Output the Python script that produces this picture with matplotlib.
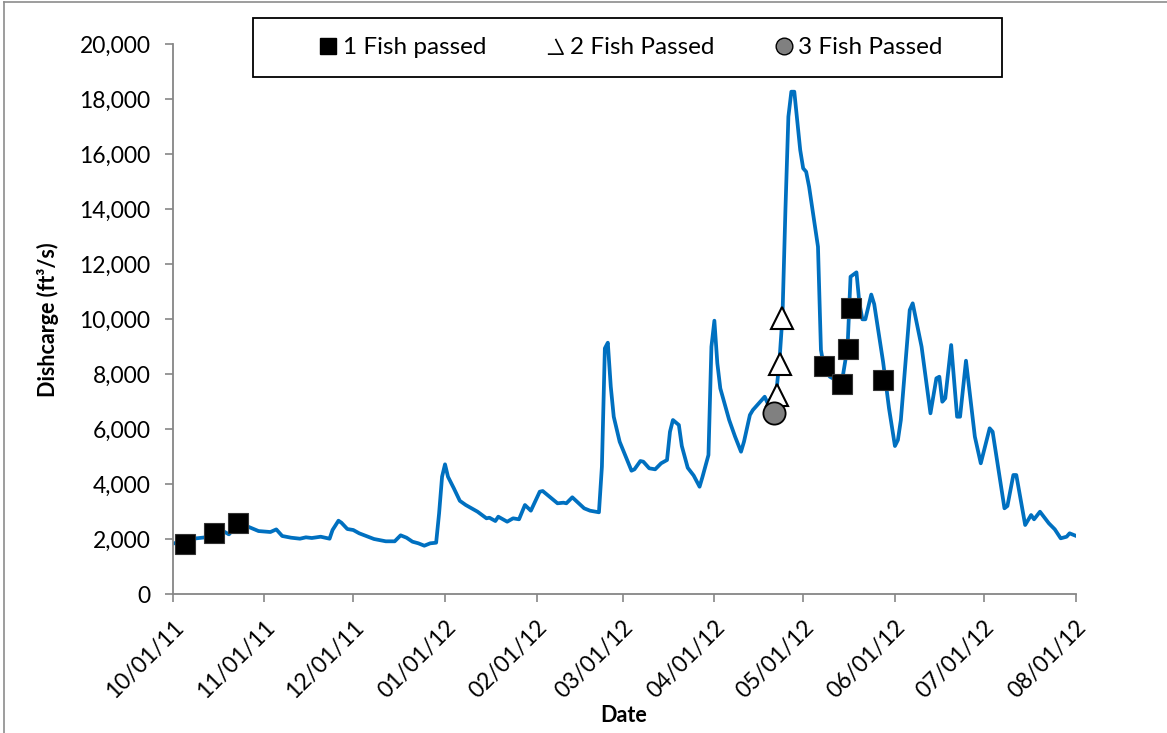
import numpy as np
import pandas as pd
import matplotlib
matplotlib.use("Agg")
import matplotlib.pyplot as plt
import matplotlib.dates as mdates
from matplotlib.lines import Line2D
from matplotlib.patches import Rectangle
from matplotlib.path import Path
from matplotlib.ticker import FuncFormatter

plt.rcParams['font.family'] = ['Lato', 'DejaVu Sans']

# Daily discharge record, as day offsets from the start of the water year
record_start = np.datetime64('2011-10-01')
flow_day = [0, 4, 8, 11, 14, 17, 19, 22, 25, 29, 33, 35, 37, 40, 43, 45, 47, 50,
            53, 54, 56, 57, 59, 61, 63, 66, 68, 72, 75, 77, 79, 81, 83, 85, 87,
            89, 90, 91, 92, 93, 95, 97, 99, 103, 106, 107, 109, 110, 113, 115,
            117, 119, 121, 124, 125, 130, 132, 133, 135, 139, 141, 144, 145,
            146, 147, 148, 149, 151, 155, 156, 158, 159, 161, 163, 165, 167,
            168, 169, 171, 172, 174, 176, 178, 179, 181, 182, 183, 184, 185,
            188, 190, 192, 193, 195, 196, 198, 200, 201, 204, 205, 206, 207,
            208, 209, 210, 212, 213, 214, 215, 218, 219, 220, 222, 224, 226,
            228, 229, 231, 232, 233, 234, 236, 237, 240, 242, 244, 245, 246,
            249, 250, 253, 256, 258, 259, 260, 261, 263, 265, 266, 268, 271,
            273, 276, 277, 281, 282, 284, 285, 288, 290, 291, 293, 296, 298,
            300, 302, 303, 305]
flow_cfs = [1840, 1950, 2036, 2070, 2150, 2300, 2180, 2550, 2480, 2300, 2265,
            2360, 2120, 2058, 2022, 2072, 2047, 2094, 2022, 2338, 2676, 2603,
            2374, 2338, 2218, 2094, 2011, 1927, 1927, 2145, 2058, 1913, 1854,
            1767, 1854, 1876, 2945, 4276, 4727, 4276, 3850, 3400, 3247, 3003,
            2763, 2785, 2665, 2822, 2640, 2763, 2727, 3247, 3040, 3731, 3756,
            3309, 3331, 3309, 3527, 3127, 3040, 2982, 4640, 8945, 9149, 7549,
            6458, 5549, 4494, 4545, 4847, 4822, 4581, 4545, 4763, 4883, 5912,
            6338, 6156, 5392, 4600, 4320, 3912, 4276, 5065, 9003, 9949, 8400,
            7490, 6338, 5731, 5185, 5549, 6520, 6701, 6945, 7185, 6945, 7428,
            8520, 10094, 13974, 17366, 18276, 18276, 16155, 15489, 15366, 14821,
            12639, 8883, 8276, 7912, 7792, 7672, 9003, 11548, 11708, 10581,
            9999, 9999, 10900, 10550, 8450, 6760, 5392, 5610, 6338, 10337,
            10581, 9003, 6581, 7854, 7912, 7003, 7127, 9064, 6458, 6458, 8494,
            5731, 4763, 6036, 5912, 3127, 3211, 4338, 4338, 2520, 2883, 2727,
            3003, 2581, 2363, 2036, 2094, 2218, 2131]

# Fish passage events
one_fish_dates = ['2011-10-05', '2011-10-15', '2011-10-23', '2012-05-08',
                  '2012-05-14', '2012-05-16', '2012-05-17', '2012-05-28']
one_fish_cfs = [1829, 2229, 2593, 8313, 7636, 8931, 10400, 7782]
two_fish_dates = ['2012-04-22', '2012-04-23', '2012-04-24']
two_fish_cfs = [7258, 8385, 10058]
three_fish_dates = ['2012-04-21']
three_fish_cfs = [6604]

legend_labels = ['1 Fish passed', '2 Fish Passed', '3 Fish Passed']
y_ticks = list(range(0, 20001, 2000))

W, H = 1167, 733
fig = plt.figure(figsize=(W / 100, H / 100), dpi=100)
ax = fig.add_axes([172.7 / W, 1 - 594.3 / H, (1075.5 - 172.7) / W, (594.3 - 44.3) / H])

flow_dates = record_start + np.array(flow_day).astype('timedelta64[D]')
ax.plot(flow_dates, flow_cfs, color='#0070C0', lw=2.7,
        solid_joinstyle='round', zorder=2)
ax.plot(pd.to_datetime(one_fish_dates), one_fish_cfs, ls='none', marker='s',
        ms=14.5, mfc='black', mec='#333333', mew=0.8, zorder=4)
ax.plot(pd.to_datetime(two_fish_dates), two_fish_cfs, ls='none', marker='^',
        ms=16, mfc='white', mec='black', mew=1.5, zorder=4)
ax.plot(pd.to_datetime(three_fish_dates), three_fish_cfs, ls='none', marker='o',
        ms=16, mfc='#808080', mec='black', mew=1.3, zorder=4)

ax.set_xlim(np.datetime64('2011-10-01'), np.datetime64('2012-08-01'))
ax.set_ylim(0, 20000)
ax.set_yticks(y_ticks)
ax.yaxis.set_major_formatter(FuncFormatter(lambda v, p: f'{v:,.0f}'))
ax.xaxis.set_major_locator(mdates.MonthLocator())
ax.xaxis.set_major_formatter(mdates.DateFormatter('%m/%d/%y'))

for side in ['top', 'right']:
    ax.spines[side].set_visible(False)
for side in ['left', 'bottom']:
    ax.spines[side].set_color('#868686')
    ax.spines[side].set_linewidth(1.3)
ax.tick_params(axis='both', direction='out', length=6, width=1.2,
               color='#868686', labelsize=16.5, labelcolor='black')
ax.tick_params(axis='y', pad=10)
ax.tick_params(axis='x', pad=10)
plt.setp(ax.get_xticklabels(), rotation=45, ha='right', rotation_mode='anchor')

ax.set_xlabel('Date', fontsize=15.5, fontweight='bold')
ax.set_ylabel('Dishcarge (ft³/s)', fontsize=15.5, fontweight='bold')
ax.xaxis.label.set_verticalalignment('center')
ax.yaxis.label.set_verticalalignment('center')
ax.xaxis.set_label_coords(0.5, (594.3 - 715) / 550)
ax.yaxis.set_label_coords((48 - 172.7) / 902.8, 0.5)

# Legend with an open triangle glyph for the two-fish entry
open_tri = Path([(-1, -1), (1, -1), (0, 1)],
                [Path.MOVETO, Path.LINETO, Path.LINETO])
handles = [
    Line2D([], [], ls='none', marker='s', ms=12, mfc='black', mec='black'),
    Line2D([], [], ls='none', marker=open_tri, ms=11, mfc='none', mec='black', mew=1.2),
    Line2D([], [], ls='none', marker='o', ms=12, mfc='#808080', mec='black', mew=1.0),
]
fig.legend(handles, legend_labels, loc='center',
           bbox_to_anchor=(631 / W, 1 - 47.6 / H), ncol=3, frameon=False,
           fontsize=17.5, handlelength=0.7, handletextpad=0.25, columnspacing=2.5)
fig.add_artist(Rectangle((253 / W, 1 - 77.3 / H), (1002 - 253) / W, (77.3 - 18.3) / H,
                         transform=fig.transFigure, fill=False, ec='black', lw=1.3))

# Chart area outline
fig.add_artist(Line2D([3.5 / W, 3.5 / W], [0, 1 - 2.3 / H], transform=fig.transFigure,
                      color='#8c8c8c', lw=1.2))
fig.add_artist(Line2D([3.5 / W, 1], [1 - 2.3 / H, 1 - 2.3 / H], transform=fig.transFigure,
                      color='#8c8c8c', lw=1.2))

fig.savefig('out.png', dpi=100)
